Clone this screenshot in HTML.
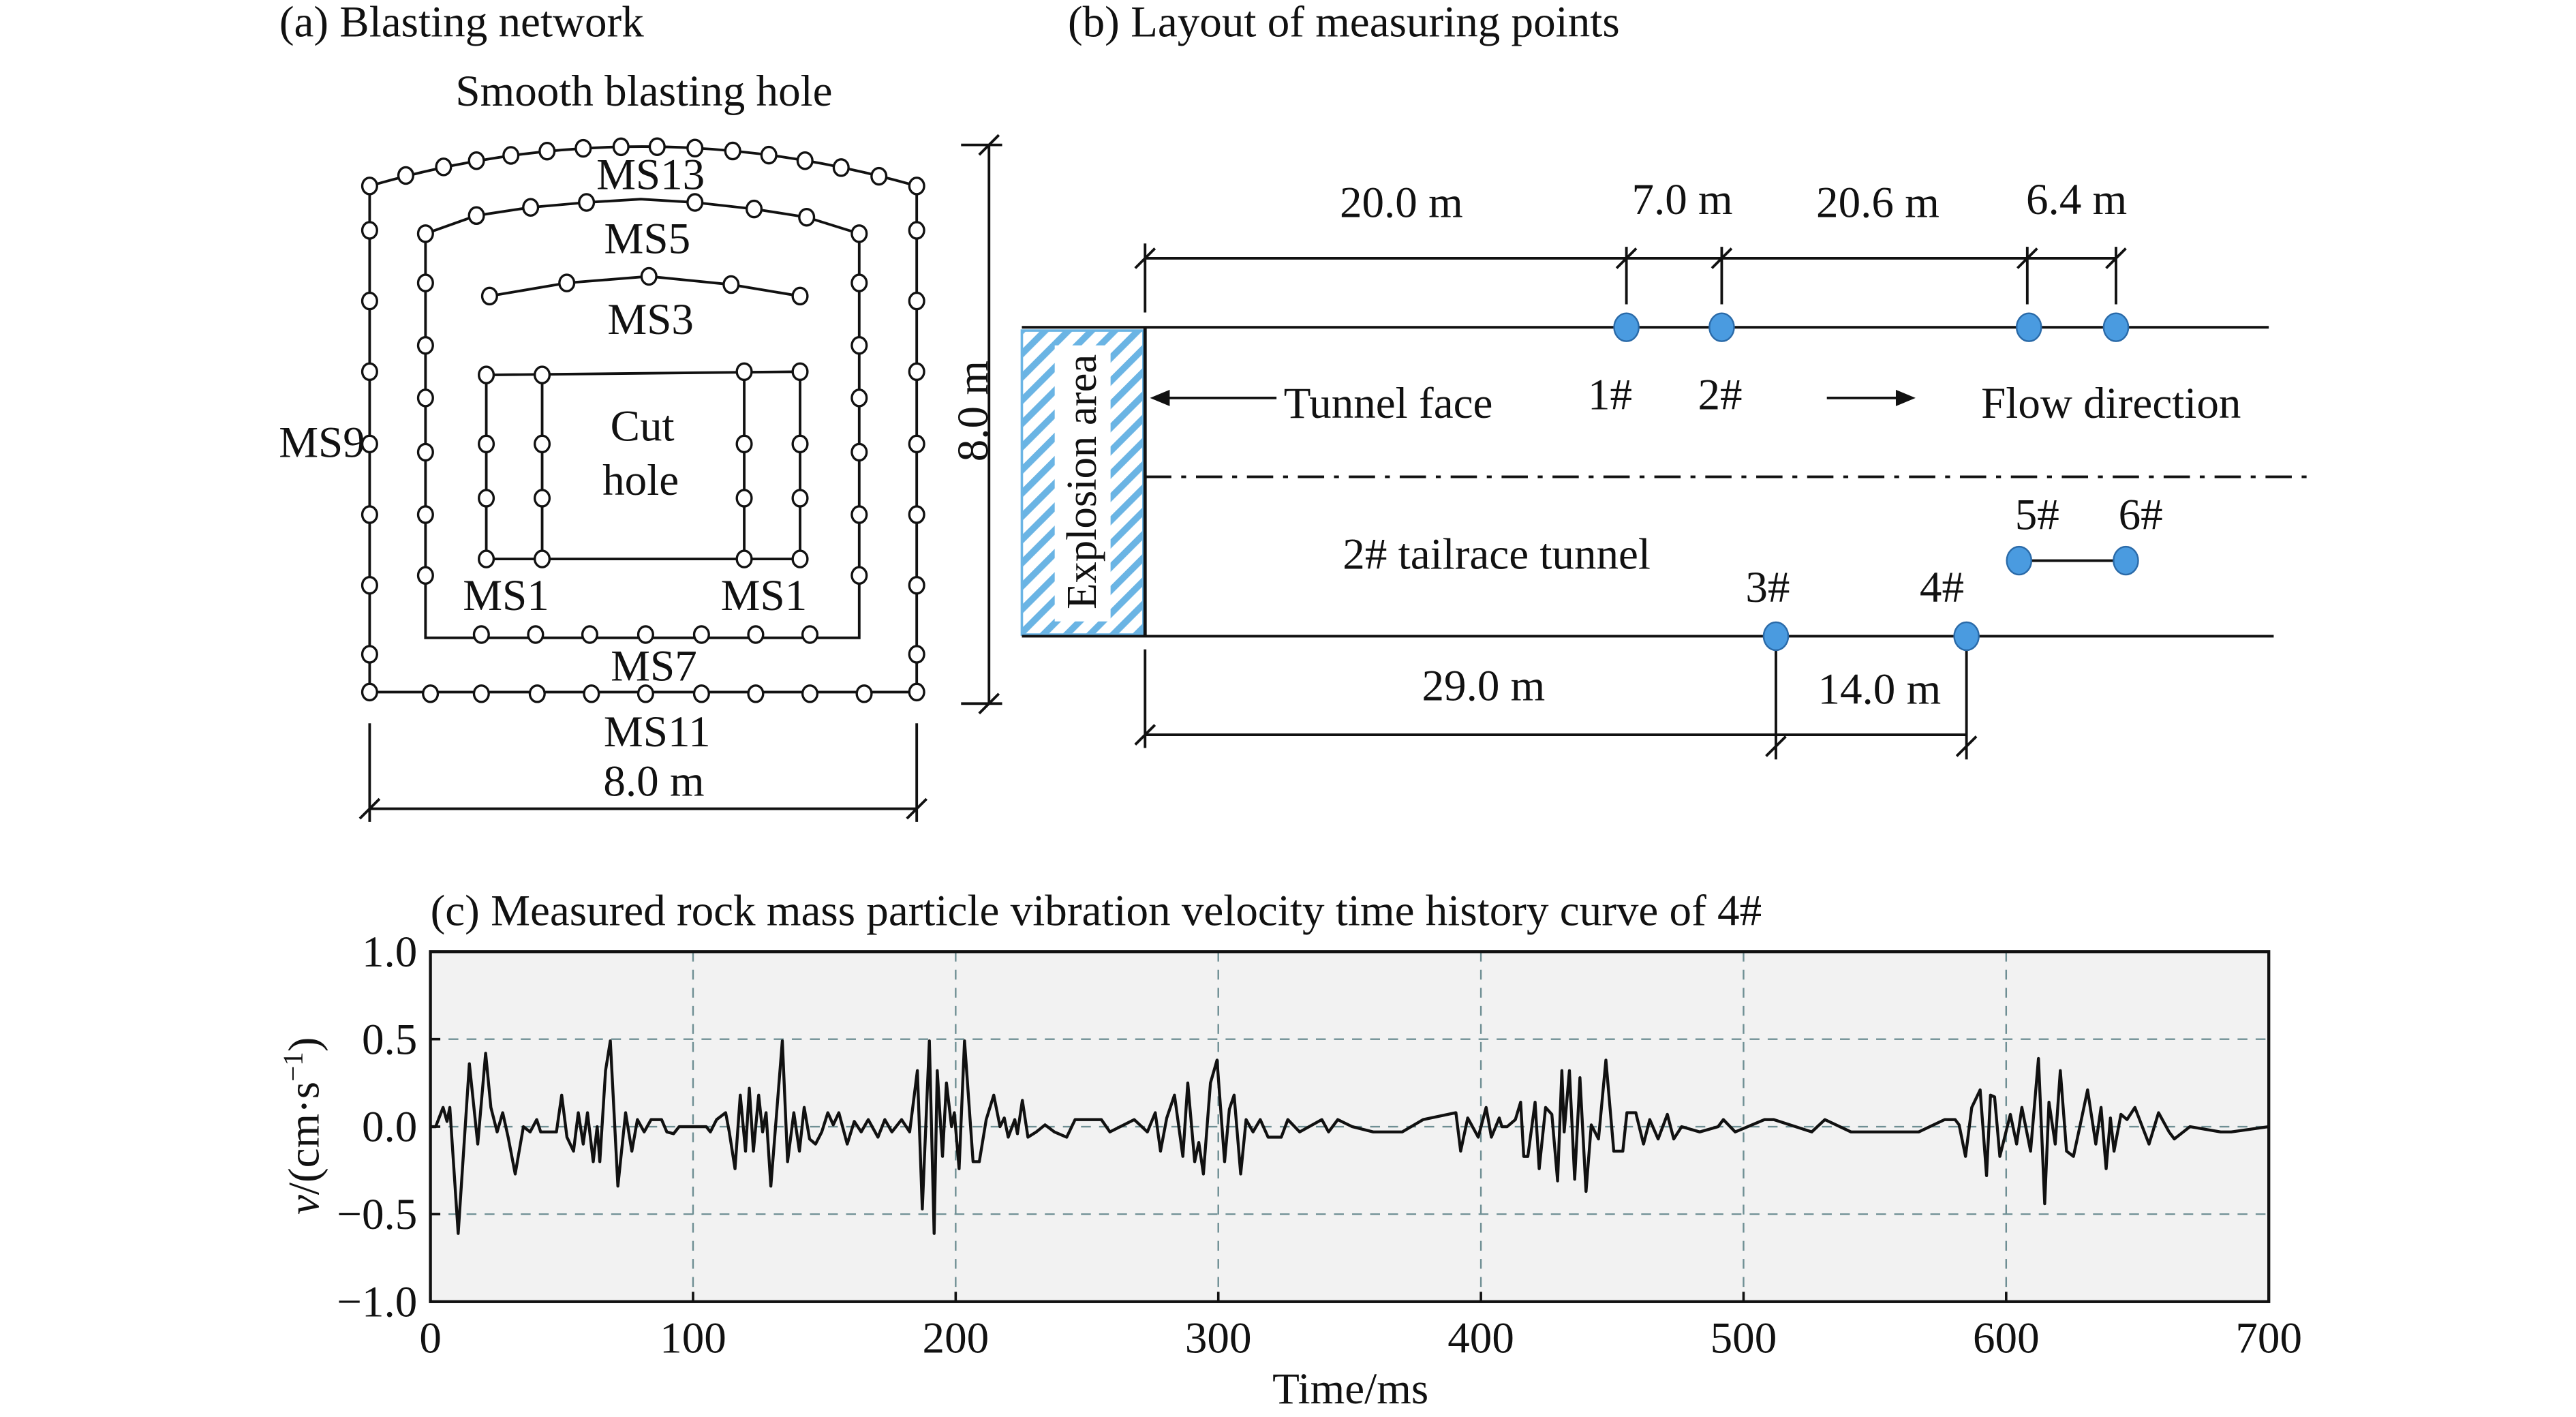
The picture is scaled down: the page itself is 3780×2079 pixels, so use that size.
<!DOCTYPE html>
<html><head><meta charset="utf-8"><style>
html,body{margin:0;padding:0;background:#fff;}
svg{display:block;}
text{font-family:"Liberation Serif",serif;fill:#111;}
</style></head><body>
<svg id="root" width="3780" height="2079" viewBox="0 0 1568 862" xmlns="http://www.w3.org/2000/svg">
<defs>
<pattern id="hatch" width="10" height="10" patternUnits="userSpaceOnUse" patternTransform="rotate(45)">
<rect width="10" height="10" fill="#fff"/><rect width="4" height="10" fill="#6ab4e4"/>
</pattern>
</defs>
<!-- Panel a -->
<g id="pa" stroke="#111" stroke-width="1.6" fill="none">
<text x="170" y="22" font-size="27" stroke="none">(a) Blasting network</text>
<text x="392" y="64" font-size="27" text-anchor="middle" stroke="none">Smooth blasting hole</text>
<path d="M225,113 Q390,65 558,113 L558,421 L225,421 Z"/>
<path d="M259,388 L259,142 L290,131 L323,126 L357,123 L390,121 L423,123 L459,127 L491,132 L523,142 L523,388 Z"/>
<path d="M298,180 L345,172 L395,168 L445,173 L487,180"/>
<path d="M296,228 L487,226 L487,340 L296,340 Z M330,228 L330,340 M453,226 L453,340"/>
<line x1="225" y1="492" x2="558" y2="492"/>
<path d="M225,440 L225,500 M558,440 L558,500 M219,498 L231,486 M552,498 L564,486"/>
<path d="M602,88 L602,428 M585,88 L610,88 M585,428 L610,428 M596,94 L608,82 M596,434 L608,422"/>
<g id="holes" fill="#fff" stroke-width="1.4"></g>
<g stroke="none" font-size="27" text-anchor="middle">
<text x="396" y="115">MS13</text>
<text x="394" y="154">MS5</text>
<text x="396" y="203">MS3</text>
<text x="391" y="268">Cut</text>
<text x="390" y="301">hole</text>
<text x="308" y="371">MS1</text>
<text x="465" y="371">MS1</text>
<text x="398" y="414">MS7</text>
<text x="400" y="454">MS11</text>
<text x="398" y="484">8.0 m</text>
<text x="196" y="278">MS9</text>
<text transform="translate(601,250) rotate(-90)">8.0 m</text>
</g>
</g>
<!-- Panel b -->
<g stroke="#111" stroke-width="1.6" fill="none">
<text x="650" y="22" font-size="27" stroke="none">(b) Layout of measuring points</text>
<rect x="622" y="201" width="74" height="185" fill="url(#hatch)" stroke="#6ab4e4" stroke-width="1.5"/>
<rect x="642" y="210" width="34" height="168" fill="#fff" stroke="none"/>
<text transform="translate(667,293) rotate(-90)" font-size="26" text-anchor="middle" stroke="none">Explosion area</text>
<line x1="622" y1="199" x2="1381" y2="199"/>
<line x1="622" y1="387" x2="1384" y2="387"/>
<line x1="697" y1="199" x2="697" y2="387" stroke-width="2"/>
<line x1="697" y1="290" x2="1405" y2="290" stroke-dasharray="16,6,3,6"/>
<path d="M697,157 L1288,157 M697,148 L697,190 M990,150 L990,185 M1048,150 L1048,185 M1234,150 L1234,185 M1288,150 L1288,185 M691,163 L703,151 M984,163 L996,151 M1042,163 L1054,151 M1228,163 L1240,151 M1282,163 L1294,151"/>
<path d="M697,447 L1197,447 M697,395 L697,455 M1081,395 L1081,462 M1197,395 L1197,462 M691,453 L703,441 M1075,460 L1087,448 M1191,460 L1203,448"/>
<path d="M777,242 L704,242"/><path d="M700,242 L712,237 L712,247 Z" fill="#111" stroke="none"/>
<path d="M1112,242 L1160,242"/><path d="M1166,242 L1154,237 L1154,247 Z" fill="#111" stroke="none"/>
<line x1="1229" y1="341" x2="1294" y2="341"/>
<g fill="#4a9be0" stroke="#2a6aa8" stroke-width="1">
<ellipse cx="990" cy="199" rx="7.5" ry="8.5"/>
<ellipse cx="1048" cy="199" rx="7.5" ry="8.5"/>
<ellipse cx="1235" cy="199" rx="7.5" ry="8.5"/>
<ellipse cx="1288" cy="199" rx="7.5" ry="8.5"/>
<ellipse cx="1229" cy="341" rx="7.5" ry="8.5"/>
<ellipse cx="1294" cy="341" rx="7.5" ry="8.5"/>
<ellipse cx="1081" cy="387" rx="7.5" ry="8.5"/>
<ellipse cx="1197" cy="387" rx="7.5" ry="8.5"/>
</g>
<g stroke="none" font-size="27" text-anchor="middle">
<text x="853" y="132">20.0 m</text>
<text x="1024" y="130">7.0 m</text>
<text x="1143" y="132">20.6 m</text>
<text x="1264" y="130">6.4 m</text>
<text x="980" y="249">1#</text>
<text x="1047" y="249">2#</text>
<text x="845" y="254">Tunnel face</text>
<text x="1285" y="254">Flow direction</text>
<text x="911" y="346">2# tailrace tunnel</text>
<text x="1240" y="322">5#</text>
<text x="1303" y="322">6#</text>
<text x="1076" y="366">3#</text>
<text x="1182" y="366">4#</text>
<text x="903" y="426">29.0 m</text>
<text x="1144" y="428">14.0 m</text>
</g>
</g>
<!-- Panel c -->
<text x="262" y="563" font-size="27">(c) Measured rock mass particle vibration velocity time history curve of 4#</text>
<rect x="262" y="579" width="1119" height="213" fill="#f2f2f2"/>
<g id="grid"></g>
<path id="wave" fill="none" stroke="#111" stroke-width="1.8" stroke-linejoin="round"/>
<rect x="262" y="579" width="1119" height="213" fill="none" stroke="#111" stroke-width="1.8"/>
<g id="ticks"></g>
<text transform="translate(194,685) rotate(-90)" font-size="27" text-anchor="middle"><tspan font-style="italic">v</tspan>/(cm·s<tspan font-size="17" dy="-10">−1</tspan><tspan dy="10">)</tspan></text>
<text x="822" y="854" font-size="27" text-anchor="middle">Time/ms</text>
</svg>
<script>
const xTicks=[0,100,200,300,400,500,600,700];
const yTicks=[1.0,0.5,0.0,-0.5,-1.0];
const yTickLabels=["1.0","0.5","0.0","\u22120.5","\u22121.0"];
const times=[0,2,4.8,6.3,7.4,10.6,14.8,18,21,23,25.4,27.5,29.6,32.3,35.4,38,40.5,42,48,50,52,54.5,56.3,58.2,59.8,62,63.5,64.5,66.7,68.5,71.4,74.3,76.7,78.8,81.4,84,88,90,92.6,94.7,105,106.6,109,112.4,113.8,116,118,120,121.4,123,125,126.5,127.8,129.6,134,136,138.4,140.5,142.3,144.4,146.6,149,151.3,153.4,155.5,158.7,161.4,164,166.7,170.4,173,175.7,179.4,182.5,185.4,187.3,190,191.8,193,195,196.5,198.4,199.5,201.3,203.4,206.6,209,211.6,214.5,216.9,218.5,220,222.5,223.5,225.4,227.5,230.7,234,237.6,242.3,245.5,250,255.5,258.7,268,273,276,278,280.4,283.3,286.5,288.4,291,292.6,294.3,297,299.5,302.4,304.2,306,308.5,310.6,313.2,316,319,324,326.5,331,339.4,342,345.5,351,359,370,378,390.5,392.3,395,399,402,404,407,408,410,413.1,415.1,416.3,417.9,420.6,422.2,424.6,427,429.2,430.8,431.7,433.7,435.7,437.7,440,442,444.8,447.6,450.6,454,455.6,459,461.9,464.3,467.5,471,473.4,476.4,483.3,490.3,492.3,496.8,508,511.5,526,531,540.9,551.8,558.7,566.7,576.6,580.6,582.1,584.5,586.9,590.1,592.5,594,595.6,597.6,601.6,604,606,609.3,612.3,614.7,616.3,618.7,620.6,623,625.6,628.6,631,634.1,636.1,638.1,639.7,641.1,643.7,646,649,654.4,658,662,664,670,681.7,685.7,700];
const velocities=[0,0,0.11,0.03,0.11,-0.61,0.36,-0.10,0.42,0.11,-0.03,0.08,-0.06,-0.27,0,-0.03,0.04,-0.03,-0.03,0.18,-0.06,-0.14,0.08,-0.1,0.08,-0.2,0,-0.2,0.32,0.49,-0.34,0.08,-0.14,0.04,-0.03,0.04,0.04,-0.03,-0.04,0,0,-0.03,0.04,0.08,-0.03,-0.24,0.18,-0.14,0.22,-0.14,0.18,-0.03,0.08,-0.34,0.49,-0.2,0.08,-0.14,0.11,-0.07,-0.1,-0.03,0.08,0.01,0.08,-0.1,0.03,-0.03,0.04,-0.06,0.04,-0.03,0.04,-0.03,0.32,-0.47,0.49,-0.61,0.32,-0.17,0.25,0,0.08,-0.24,0.49,-0.2,-0.2,0.04,0.18,0,0.05,-0.06,0.04,-0.04,0.15,-0.06,-0.03,0.01,-0.03,-0.06,0.04,0.04,0.04,-0.03,0.04,-0.03,0.08,-0.14,0.05,0.18,-0.17,0.25,-0.2,-0.09,-0.27,0.25,0.38,-0.2,0.1,0.18,-0.27,0.04,-0.03,0.04,-0.06,-0.06,0.04,-0.03,0.04,-0.03,0.04,0,-0.03,-0.03,0.04,0.08,-0.14,0.05,-0.06,0.11,-0.06,0.05,0,0,0.04,0.14,-0.17,-0.17,0.14,-0.24,0.11,0.07,-0.31,0.32,-0.03,0.32,-0.3,0.28,-0.37,0.01,-0.07,0.38,-0.14,-0.14,0.08,0.08,-0.1,0.04,-0.07,0.07,-0.07,0,-0.03,0,0.04,-0.03,0.04,0.04,-0.03,0.04,-0.03,-0.03,-0.03,-0.03,0.04,0.04,0.01,-0.17,0.11,0.21,-0.28,0.18,0.17,-0.17,0.07,-0.1,0.11,-0.14,0.39,-0.44,0.14,-0.1,0.32,-0.14,-0.17,0.04,0.21,-0.1,0.11,-0.24,0.05,-0.14,0.07,0.04,0.11,-0.1,0.08,-0.03,-0.07,0,-0.03,-0.03,0,0];
const NS="http://www.w3.org/2000/svg";
const X0=262,X1=1381,Y0=792,Y1=579;
function sx(t){return X0+(t-0)/(700-0)*(X1-X0);}
function sy(v){return Y0-(v+1)/2*(Y0-Y1);}
const grid=document.getElementById('grid'),ticks=document.getElementById('ticks');
function mk(tag,attrs,parent){const e=document.createElementNS(NS,tag);for(const k in attrs)e.setAttribute(k,attrs[k]);parent.appendChild(e);return e;}
xTicks.forEach(t=>{
  const x=sx(t);
  if(t>0&&t<700){const g=mk('line',{x1:x,y1:Y1,x2:x,y2:Y0,stroke:'#6f8f94','stroke-width':1,'stroke-dasharray':'6,5'},grid);
  
  }
  const tk=mk('line',{x1:x,y1:Y0,x2:x,y2:Y0-6,stroke:'#111','stroke-width':1.5},ticks);
  
  
  const lb=mk('text',{x:x,y:823,'font-size':27,'text-anchor':'middle'},ticks);lb.textContent=String(t);
  
  
});
yTicks.forEach((v,i)=>{
  const y=sy(v);
  if(v>-1&&v<1){const g=mk('line',{x1:X0,y1:y,x2:X1,y2:y,stroke:'#6f8f94','stroke-width':1,'stroke-dasharray':'6,5'},grid);
  
  }
  const tk=mk('line',{x1:X0,y1:y,x2:X0+6,y2:y,stroke:'#111','stroke-width':1.5},ticks);
  
  
  const lb=mk('text',{x:254,y:y+9,'font-size':27,'text-anchor':'end'},ticks);lb.textContent=yTickLabels[i];
  
  
});
document.getElementById('wave').setAttribute('d',times.map((t,i)=>(i?'L':'M')+sx(t).toFixed(1)+','+sy(velocities[i]).toFixed(1)).join(' '));
// blast holes (diagram)
const holes=document.getElementById('holes');
const H=[];
[247,270,290,311,333,355,378,400,423,446,468,490,512,535].forEach(x=>{const d=(x-390)/167;H.push([x,89+24*d*d]);});
[113,140,183,226,270,313,356,398,421].forEach(y=>{H.push([225,y]);H.push([558,y]);});
[262,293,327,360,393,427,460,493,526].forEach(x=>H.push([x,422]));
[[290,131],[323,126],[357,123],[423,123],[459,127],[491,132]].forEach(p=>H.push(p));
[142,172,210,242,275,313,350].forEach(y=>{H.push([259,y]);H.push([523,y]);});
[293,326,359,393,427,460,493].forEach(x=>H.push([x,386]));
[[298,180],[345,172],[395,168],[445,173],[487,180]].forEach(p=>H.push(p));
[[296,228],[330,228],[453,226],[487,226],[296,340],[330,340],[453,340],[487,340]].forEach(p=>H.push(p));
[270,303].forEach(y=>{[296,330,453,487].forEach(x=>H.push([x,y]));});
H.forEach(p=>{const c=mk('ellipse',{cx:p[0],cy:p[1],rx:4.5,ry:5},holes);

});
</script>
</body></html>
